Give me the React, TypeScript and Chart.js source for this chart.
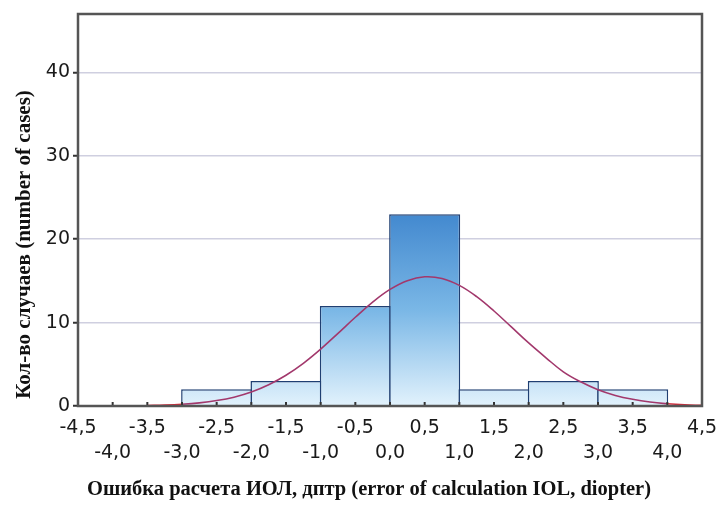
import React, { useEffect, useRef } from "react";
import { Chart, registerables } from "chart.js";

Chart.register(...registerables);

const binCenters = [-2.5, -1.5, -0.5, 0.5, 1.5, 2.5, 3.5];
const binCounts = [2, 3, 12, 23, 2, 3, 2];

const curveX = [-3.5, -3.25, -3.0, -2.75, -2.5, -2.25, -2.0, -1.75, -1.5, -1.25, -1.0, -0.75, -0.5, -0.25, 0.0, 0.25, 0.5, 0.75, 1.0, 1.25, 1.5, 1.75, 2.0, 2.25, 2.5, 2.75, 3.0, 3.25, 3.5, 3.75, 4.0, 4.25, 4.5];
const curveY = [0.06, 0.11, 0.21, 0.38, 0.65, 1.06, 1.68, 2.55, 3.69, 5.12, 6.82, 8.71, 10.64, 12.46, 13.98, 15.03, 15.49, 15.29, 14.46, 13.11, 11.39, 9.48, 7.56, 5.78, 4.1, 2.9, 1.95, 1.27, 0.8, 0.47, 0.27, 0.14, 0.07];

const xTickValues = [-4.5, -4.0, -3.5, -3.0, -2.5, -2.0, -1.5, -1.0, -0.5, 0.0, 0.5, 1.0, 1.5, 2.0, 2.5, 3.0, 3.5, 4.0, 4.5];
const yTickValues = [0, 10, 20, 30, 40];

const yTitle = "Кол-во случаев (number of cases)";
const xTitle = "Ошибка расчета ИОЛ, дптр (error of calculation IOL, diopter)";

const fmt = (v: number) => v.toFixed(1).replace(".", ",");

export default function App() {
  const ref = useRef<HTMLCanvasElement | null>(null);

  useEffect(() => {
    document.body.style.margin = "0";
    const canvas = ref.current;
    if (!canvas) return;

    const decor = {
      id: "decor",
      afterDatasetsDraw(chart: any) {
        const ctx = chart.ctx;
        const xs = chart.scales.x;
        const ys = chart.scales.y;
        const area = chart.chartArea;
        ctx.save();
        ctx.strokeStyle = "#333";
        ctx.lineWidth = 2;
        ctx.beginPath();
        xTickValues.forEach((v) => {
          const px = xs.getPixelForValue(v);
          ctx.moveTo(px, area.bottom);
          ctx.lineTo(px, area.bottom - 4);
        });
        ctx.stroke();
        ctx.strokeStyle = "#555";
        ctx.lineWidth = 2.5;
        ctx.strokeRect(area.left, area.top, area.right - area.left, ys.getPixelForValue(0) - area.top);
        ctx.restore();
      },
      afterDraw(chart: any) {
        const ctx = chart.ctx;
        ctx.save();
        ctx.fillStyle = "#111";
        ctx.textAlign = "center";
        ctx.textBaseline = "middle";
        ctx.font = "bold 20.5px 'Liberation Serif', 'Times New Roman', serif";
        ctx.fillText(xTitle, chart.width / 2 + 9, chart.height - 19);
        ctx.translate(25, chart.height / 2 - 10);
        ctx.rotate(-Math.PI / 2);
        ctx.font = "bold 21px 'Liberation Serif', 'Times New Roman', serif";
        ctx.fillText(yTitle, 0, 0);
        ctx.restore();
      },
    };

    const chart = new Chart(canvas, {
      data: {
        datasets: [
          {
            type: "line",
            data: curveX.map((x, i) => ({ x, y: curveY[i] })),
            borderColor: "#a2386c",
            borderWidth: 1.6,
            pointRadius: 0,
            tension: 0.4,
            order: 1,
            segment: {
              borderColor: (c: any) =>
                c.p0.parsed.y < 0.3 && c.p1.parsed.y < 0.3 ? "#d42a3a" : "#a2386c",
            },
          } as any,
          {
            type: "bar",
            data: binCenters.map((x, i) => ({ x, y: binCounts[i] })),
            barPercentage: 2.05,
            categoryPercentage: 1,
            borderColor: "#1f3f72",
            borderWidth: 1.5,
            order: 2,
            backgroundColor: (c: any) => {
              const ch = c.chart;
              const area = ch.chartArea;
              if (!area) return "#8fc3ea";
              const ys = ch.scales.y;
              const g = ch.ctx.createLinearGradient(0, ys.getPixelForValue(23), 0, ys.getPixelForValue(0));
              g.addColorStop(0, "#4389cf");
              g.addColorStop(0.5, "#7ab7e6");
              g.addColorStop(1, "#e2f2fc");
              return g;
            },
          } as any,
        ],
      },
      options: {
        animation: false,
        responsive: false,
        maintainAspectRatio: false,
        layout: { padding: { top: 14, right: 18, left: 0, bottom: 0 } },
        plugins: { legend: { display: false }, tooltip: { enabled: false } },
        scales: {
          x: {
            type: "linear",
            min: -4.5,
            max: 4.5,
            offset: false,
            afterBuildTicks: (s: any) => {
              s.ticks = xTickValues.map((v) => ({ value: v }));
            },
            afterFit: (s: any) => {
              s.height = 103;
              s.paddingLeft = 0;
              s.paddingRight = 0;
            },
            ticks: {
              autoSkip: false,
              maxRotation: 0,
              minRotation: 0,
              padding: 10,
              color: "#1a1a1a",
              font: { family: "DejaVu Sans", size: 19, lineHeight: 1.3 },
              callback: (v: any) => {
                const n = Number(v);
                const isInt = Math.abs(n - Math.round(n)) < 1e-6;
                return isInt ? ["", fmt(n)] : [fmt(n), ""];
              },
            },
            grid: { display: false, drawTicks: false },
            border: { display: false },
            title: { display: false },
          },
          y: {
            type: "linear",
            min: 0,
            max: 47,
            afterBuildTicks: (s: any) => {
              s.ticks = yTickValues.map((v) => ({ value: v }));
            },
            afterFit: (s: any) => {
              s.width = 78;
              s.paddingTop = 0;
              s.paddingBottom = 0;
            },
            ticks: {
              padding: 3,
              color: "#1a1a1a",
              font: { family: "DejaVu Sans", size: 19 },
            },
            grid: {
              color: (c: any) => (c.tick && c.tick.value === 0 ? "rgba(0,0,0,0)" : "#cfcfe0"),
              lineWidth: 1.5,
              tickLength: 5,
              tickColor: "#333",
              tickWidth: 2,
            },
            border: { display: false },
            title: { display: false },
          },
        },
      } as any,
      plugins: [decor],
    });

    return () => chart.destroy();
  }, []);

  return (
    <div style={{ width: 720, height: 509, background: "#fff" }}>
      <canvas ref={ref} width={720} height={509} style={{ display: "block" }} />
    </div>
  );
}
